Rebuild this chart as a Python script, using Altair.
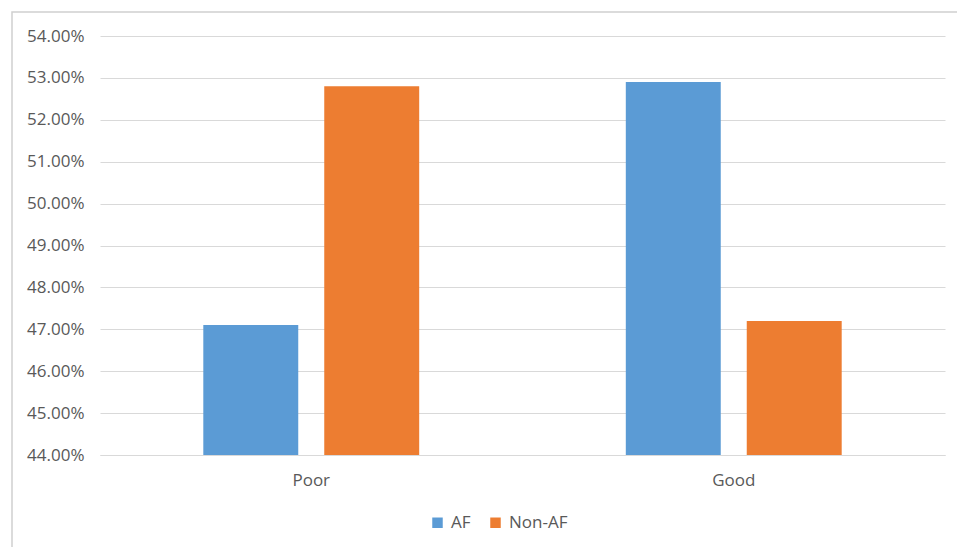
import altair as alt
import pandas as pd

categories = ["Poor", "Poor", "Good", "Good"]
groups = ["AF", "Non-AF", "AF", "Non-AF"]
values = [0.471, 0.528, 0.529, 0.472]
y_ticks = [0.44, 0.45, 0.46, 0.47, 0.48, 0.49, 0.50, 0.51, 0.52, 0.53, 0.54]
cat_order = ["Poor", "Good"]
group_order = ["AF", "Non-AF"]
colors = ["#5b9bd5", "#ed7d31"]

df = pd.DataFrame({"category": categories, "group": groups, "value": values})

FONT = "Open Sans"
TXT = "#595959"
GRID = "#d9d9d9"

bars = alt.Chart(df).mark_bar().encode(
    x=alt.X("category:N", sort=cat_order, title=None,
            scale=alt.Scale(paddingInner=0.489, paddingOuter=0.2445),
            axis=alt.Axis(labelAngle=0, ticks=False, domainColor=GRID, domainWidth=1,
                          labelFontSize=17, labelColor=TXT, labelFont=FONT, labelPadding=17,
                          grid=False)),
    xOffset=alt.XOffset("group:N", sort=group_order,
                        scale=alt.Scale(paddingInner=0.215, paddingOuter=0)),
    y=alt.Y("value:Q", title=None,
            scale=alt.Scale(domain=[0.44, 0.54], zero=False, nice=False),
            axis=alt.Axis(values=y_ticks, format=".2%", domain=False, ticks=False,
                          gridColor=GRID, gridWidth=1, labelFontSize=17, labelColor=TXT,
                          labelFont=FONT, labelPadding=16)),
    y2=alt.datum(0.44),
    color=alt.Color("group:N", sort=group_order,
                    scale=alt.Scale(domain=group_order, range=colors),
                    legend=alt.Legend(title=None, orient="none", direction="horizontal",
                                      legendX=329, legendY=478, symbolType="square",
                                      symbolSize=110, symbolStrokeWidth=0,
                                      labelFontSize=17, labelColor=TXT, labelFont=FONT,
                                      columnPadding=16, labelOffset=5)),
)

border = alt.Chart(pd.DataFrame({"a": [0]})).mark_rect(
    fill=None, stroke="#d0d0d0", strokeWidth=1.5
).encode(
    x=alt.value(-88), x2=alt.value(870), y=alt.value(-24), y2=alt.value(530)
)

chart = alt.layer(bars, border).properties(
    width=845, height=419,
    background="white",
    autosize=alt.AutoSizeParams(type="none"),
    padding={"left": 100, "top": 36, "right": 12, "bottom": 92},
).configure_view(strokeWidth=0, stroke="transparent")

chart.save("out.html", embed_options={"renderer": "svg", "actions": False})
